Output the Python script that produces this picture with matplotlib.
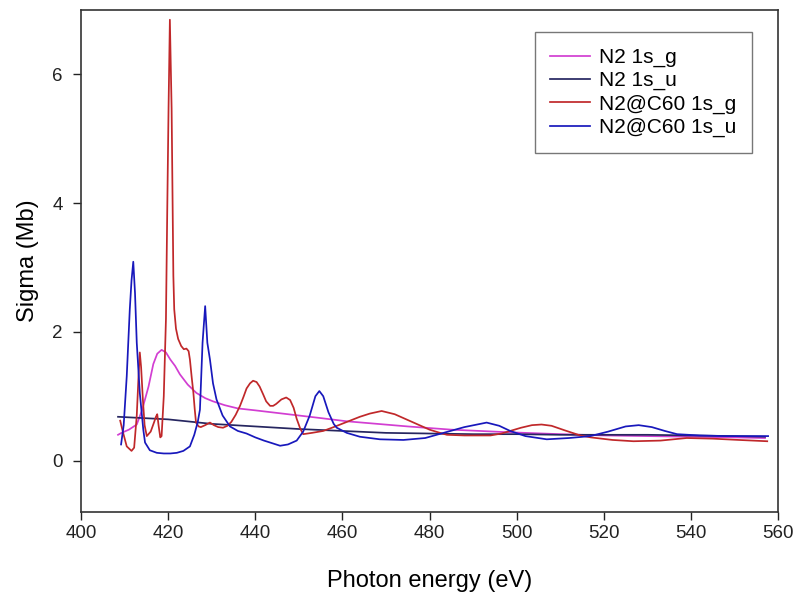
import matplotlib
matplotlib.use("Agg")
import matplotlib.pyplot as plt

plt.rcParams['font.family'] = ['Liberation Sans', 'DejaVu Sans']

# N2 1s_g (free molecule)
e_n2_g = [408.5, 409.3, 411.0, 412.8, 414.0, 415.5, 416.6, 417.5, 418.5, 419.5,
          420.5, 421.6, 422.7, 424.5, 426.5, 428.5, 430.3, 433.0, 436.0, 440.0,
          445.0, 450.0, 455.0, 461.0, 468.0, 475.0, 485.0, 498.0, 510.0, 520.0,
          530.0, 540.0, 550.0, 557.0]
s_n2_g = [0.40, 0.43, 0.48, 0.56, 0.78, 1.15, 1.50, 1.66, 1.72, 1.68,
          1.57, 1.47, 1.34, 1.18, 1.05, 0.97, 0.92, 0.86, 0.81, 0.78,
          0.74, 0.70, 0.66, 0.61, 0.57, 0.53, 0.48, 0.44, 0.41, 0.39,
          0.38, 0.37, 0.36, 0.35]

# N2 1s_u (free molecule)
e_n2_u = [408.5, 420.0, 430.0, 440.0, 450.0, 460.0, 470.0, 480.0, 490.0, 500.0,
          510.0, 520.0, 530.0, 540.0, 550.0, 557.0]
s_n2_u = [0.68, 0.64, 0.57, 0.53, 0.49, 0.46, 0.43, 0.42, 0.41, 0.41,
          0.40, 0.40, 0.40, 0.39, 0.38, 0.37]

# N2@C60 1s_g
e_c60_g = [409.0, 409.6, 410.5, 411.6, 412.2, 412.8, 413.2, 413.5, 413.8, 414.2,
           414.6, 415.1, 416.0, 416.8, 417.2, 417.5, 417.8, 418.2, 418.5, 419.0,
           419.5, 419.8, 420.1, 420.4, 420.8, 421.2, 421.4, 421.8, 422.3, 423.0,
           423.6, 424.2, 424.7, 425.0, 425.4, 425.8, 426.1, 426.4, 427.0, 427.5,
           428.5, 429.6, 430.5, 431.5, 432.6, 433.6, 434.5, 435.5, 436.5, 437.3,
           438.0, 438.8, 439.5, 440.3, 441.0, 441.8, 442.5, 443.4, 444.1, 444.8,
           446.0, 447.1, 448.0, 448.8, 449.5, 450.3, 451.0, 453.0, 455.6, 458.0,
           461.0, 464.0, 466.3, 469.0, 472.0, 476.0, 480.0, 482.4, 484.0, 488.0,
           494.0, 496.5, 498.5, 501.0, 503.5, 505.7, 508.0, 511.0, 514.6, 517.0,
           522.0, 526.8, 533.0, 539.0, 545.0, 551.0, 557.5]
s_c60_g = [0.62, 0.45, 0.22, 0.15, 0.20, 0.70, 1.30, 1.68, 1.45, 0.95,
           0.55, 0.38, 0.45, 0.60, 0.68, 0.72, 0.55, 0.36, 0.38, 1.00,
           2.20, 3.90, 5.50, 6.85, 5.47, 2.87, 2.35, 2.05, 1.89, 1.78,
           1.73, 1.74, 1.70, 1.57, 1.30, 1.05, 0.80, 0.59, 0.53, 0.52,
           0.55, 0.59, 0.55, 0.52, 0.51, 0.54, 0.60, 0.71, 0.85, 0.99,
           1.12, 1.20, 1.24, 1.22, 1.15, 1.03, 0.92, 0.85, 0.85, 0.88,
           0.95, 0.98, 0.94, 0.82, 0.65, 0.50, 0.41, 0.43, 0.46, 0.52,
           0.60, 0.68, 0.73, 0.77, 0.72, 0.60, 0.48, 0.43, 0.40, 0.39,
           0.39, 0.42, 0.46, 0.51, 0.55, 0.56, 0.54, 0.47, 0.39, 0.36,
           0.32, 0.30, 0.31, 0.35, 0.34, 0.32, 0.30]

# N2@C60 1s_u
e_c60_u = [409.2, 409.8, 410.5, 411.2, 411.6, 412.0, 412.4, 412.8, 413.5, 414.3,
           414.7, 415.8, 417.4, 419.0, 420.5, 422.0, 423.5, 425.0, 426.0, 426.8,
           427.3, 427.9, 428.5, 429.0, 429.6, 430.3, 431.1, 432.5, 434.2, 436.0,
           438.0, 440.0, 442.0, 443.4, 445.7, 447.5, 449.5, 451.0, 452.5, 453.8,
           454.7, 455.6, 456.8, 458.0, 458.7, 461.0, 464.0, 468.6, 474.0, 479.0,
           483.2, 488.0, 493.1, 496.0, 498.5, 502.0, 506.9, 512.0, 516.9, 521.0,
           525.0, 528.0, 531.0, 534.0, 536.8, 542.0, 548.0, 553.0, 557.7]
s_c60_u = [0.25, 0.55, 1.31, 2.35, 2.80, 3.09, 2.60, 1.83, 1.05, 0.48,
           0.28, 0.16, 0.12, 0.11, 0.11, 0.12, 0.15, 0.22, 0.40, 0.60,
           0.79, 1.83, 2.40, 1.83, 1.57, 1.20, 0.95, 0.70, 0.53, 0.46,
           0.42, 0.36, 0.31, 0.28, 0.23, 0.25, 0.31, 0.45, 0.70, 1.00,
           1.08, 1.00, 0.75, 0.57, 0.51, 0.43, 0.37, 0.33, 0.32, 0.35,
           0.43, 0.52, 0.59, 0.54, 0.46, 0.38, 0.33, 0.35, 0.38, 0.45,
           0.53, 0.55, 0.52, 0.46, 0.41, 0.39, 0.38, 0.38, 0.38]

fig = plt.figure(figsize=(7.94, 5.94), dpi=100)
ax = fig.add_axes([0.102, 0.138, 0.878, 0.845])

ax.plot(e_n2_g, s_n2_g, color='#d23ed2', lw=1.25, label='N2 1s_g')
ax.plot(e_n2_u, s_n2_u, color='#262660', lw=1.25, label='N2 1s_u')
ax.plot(e_c60_g, s_c60_g, color='#c0282a', lw=1.25, label='N2@C60 1s_g')
ax.plot(e_c60_u, s_c60_u, color='#1818bc', lw=1.25, label='N2@C60 1s_u')

ax.set_xlim(400, 560)
ax.set_ylim(-0.8, 7.0)
ax.set_xticks(range(400, 561, 20))
ax.set_yticks([0, 2, 4, 6])
ax.tick_params(direction='out', length=6, width=1, labelsize=13.5, colors='#222222')
ax.tick_params(axis='y', pad=7)
for sp in ax.spines.values():
    sp.set_color('#333333')
    sp.set_linewidth(1.2)

ax.set_xlabel('Photon energy (eV)', fontsize=17, labelpad=20)
ax.set_ylabel('Sigma (Mb)', fontsize=17, labelpad=10)

leg = ax.legend(loc='upper right', bbox_to_anchor=(0.963, 0.956), borderaxespad=0,
                fontsize=15, frameon=True, fancybox=False, handlelength=1.9,
                handletextpad=0.45, labelspacing=0.2, borderpad=0.75)
leg.get_frame().set_edgecolor('#555555')
leg.get_frame().set_linewidth(1.0)

fig.savefig('out.png', dpi=100)
